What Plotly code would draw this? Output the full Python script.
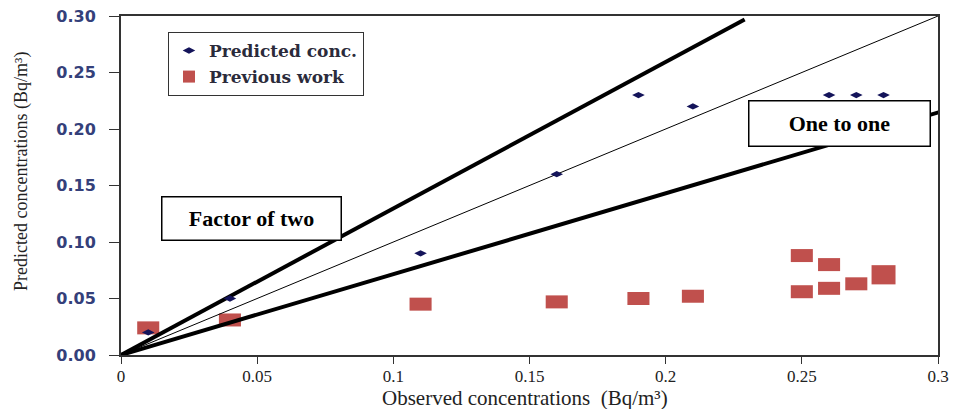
import plotly.graph_objects as go

# Observed vs predicted concentrations (Bq/m^3)
pred_obs = [0.01, 0.04, 0.11, 0.16, 0.19, 0.21, 0.26, 0.27, 0.28]
pred_val = [0.02, 0.05, 0.09, 0.16, 0.23, 0.22, 0.23, 0.23, 0.23]

prev_obs = [0.01, 0.04, 0.11, 0.16, 0.19, 0.21, 0.25, 0.25, 0.26, 0.26, 0.27, 0.28]
prev_val = [0.024, 0.031, 0.045, 0.047, 0.050, 0.052, 0.088, 0.056, 0.080, 0.059, 0.063, 0.071]

# Reference lines through the origin
one_x = [0, 0.3]
one_y = [0, 0.3]
upper_x = [0, 0.229]
upper_y = [0, 0.297]
lower_x = [0, 0.302]
lower_y = [0, 0.216]

x_ticks = [0, 0.05, 0.1, 0.15, 0.2, 0.25, 0.3]
x_tick_text = ["0", "0.05", "0.1", "0.15", "0.2", "0.25", "0.3"]
y_ticks = [0, 0.05, 0.10, 0.15, 0.20, 0.25, 0.30]

# Rectangle marker size (data units) for the previous-work points
box_w = [0.0081] * 11 + [0.0088]
box_h = [0.0115] * 11 + [0.0170]

fig = go.Figure()

fig.add_trace(go.Bar(
    x=prev_obs, y=box_h, base=[v - h / 2 for v, h in zip(prev_val, box_h)],
    width=box_w, name="Previous work", legendgroup="b", legendrank=2,
    marker=dict(color="#c0504d", line=dict(width=0)),
))

for lx, ly, w in [(upper_x, upper_y, 4), (lower_x, lower_y, 4), (one_x, one_y, 1)]:
    fig.add_trace(go.Scatter(x=lx, y=ly, mode="lines", showlegend=False,
                             line=dict(color="black", width=w), hoverinfo="skip"))

fig.add_trace(go.Scatter(
    x=pred_obs, y=pred_val, mode="markers", name="Predicted conc.",
    legendgroup="a", legendrank=1,
    marker=dict(symbol="diamond-wide", size=9, color="#14145a"),
))

box_font = dict(family="Liberation Serif, Times New Roman, serif", size=22,
                color="black", weight="bold")
fig.add_annotation(x=0.048, y=0.121, xref="x", yref="y", text="Factor of two",
                   showarrow=False, font=box_font, bgcolor="white", bordercolor="black",
                   borderwidth=1.5, width=176, height=40)
fig.add_annotation(x=0.2637, y=0.205, xref="x", yref="y", text="One to one",
                   showarrow=False, font=box_font, bgcolor="white", bordercolor="black",
                   borderwidth=1.5, width=178, height=42)

# Axis titles
title_font = dict(family="Liberation Serif, Times New Roman, serif", color="#222222")
fig.add_annotation(x=0.495, y=-0.127, xref="paper", yref="paper",
                   text="Observed concentrations  (Bq/m³)", showarrow=False,
                   xanchor="center", yanchor="middle", font=dict(size=21, **title_font))
fig.add_annotation(x=-0.1212, y=0.543, xref="paper", yref="paper",
                   text="Predicted concentrations (Bq/m³)", showarrow=False, textangle=-90,
                   xanchor="center", yanchor="middle", font=dict(size=18, **title_font))

fig.update_layout(
    width=954, height=409,
    margin=dict(l=121, r=16, t=16, b=54),
    paper_bgcolor="white", plot_bgcolor="white",
    barmode="overlay",
    legend=dict(x=0.0575, y=0.953, xanchor="left", yanchor="top",
                bordercolor="#333333", borderwidth=1, bgcolor="white",
                font=dict(family="DejaVu Serif", size=17, color="#2b2b3b", weight="bold"),
                traceorder="grouped", tracegroupgap=1),
    xaxis=dict(range=[0, 0.3], tickvals=x_ticks, ticktext=x_tick_text, automargin=False,
               showgrid=False, zeroline=False, showline=True, linecolor="#333333", linewidth=2,
               mirror=True, ticks="outside", ticklen=7, tickcolor="#333333", ticklabelstandoff=-2,
               tickfont=dict(family="Liberation Serif", size=17, color="#222222")),
    yaxis=dict(range=[0, 0.3], tickvals=y_ticks, tickformat=".2f", automargin=False,
               showgrid=False, zeroline=False, showline=True, linecolor="#333333", linewidth=2,
               mirror=True, ticks="outside", ticklen=10, tickcolor="#333333", ticklabelstandoff=10,
               tickfont=dict(family="DejaVu Sans", size=16, color="#34407a", weight="bold")),
)

fig.write_html("out.html")
